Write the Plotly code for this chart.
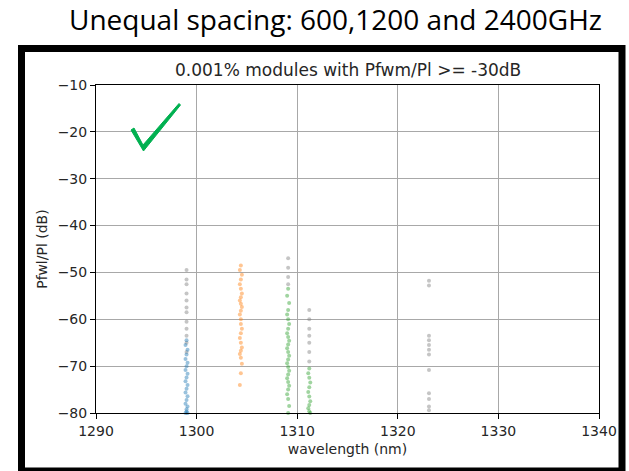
import plotly.graph_objects as go

# ---- data ----
blue_x = [1299.0, 1298.9, 1299.1, 1299.0, 1298.9, 1299.1, 1299.0, 1298.9, 1299.1, 1299.0, 1298.9, 1299.1,
          1299.0, 1298.9, 1299.1, 1299.0, 1298.9, 1299.1, 1299.0, 1299.0, 1299.1, 1298.9]
blue_y = [-64.5, -65.5, -66.5, -67.5, -68.5, -69.3, -70.0, -70.8, -71.6, -72.4, -73.2, -74.0,
          -74.8, -75.6, -76.4, -77.2, -78.0, -78.6, -79.2, -79.7, -80.0, -80.0]

orange_x = [1304.4, 1304.3, 1304.5, 1304.4, 1304.3, 1304.4, 1304.5, 1304.4, 1304.3, 1304.4, 1304.5, 1304.4,
            1304.3, 1304.4, 1304.4, 1304.5, 1304.4, 1304.3, 1304.4, 1304.5, 1304.4, 1304.3, 1304.4, 1304.5,
            1304.4, 1304.3]
orange_y = [-48.5, -49.5, -50.5, -51.5, -52.5, -53.5, -54.5, -55.3, -56.0, -56.7, -57.4, -58.2,
            -59.0, -60.0, -61.0, -62.0, -63.0, -64.0, -65.0, -66.0, -66.7, -67.4, -68.2, -69.5,
            -71.5, -74.0]

green_x = [1309.1, 1309.0, 1309.2, 1309.1, 1309.0, 1309.1, 1309.2, 1309.1, 1309.0, 1309.1, 1309.2, 1309.1,
           1309.0, 1309.1, 1309.2, 1309.1, 1309.0, 1309.1, 1309.2, 1309.1, 1309.0, 1309.1, 1309.2, 1309.1,
           1309.0, 1309.1, 1309.2, 1309.1,
           1311.2, 1311.1, 1311.2, 1311.3, 1311.2, 1311.1, 1311.2, 1311.3, 1311.2, 1311.1, 1311.2, 1311.3]
green_y = [-53.5, -55.0, -56.5, -58.0, -59.0, -60.0, -61.0, -62.0, -63.0, -63.8, -64.6, -65.4,
           -66.2, -67.0, -67.8, -68.6, -69.4, -70.2, -71.0, -71.8, -72.6, -73.4, -74.2, -75.0,
           -76.0, -77.0, -78.5, -80.0,
           -70.5, -71.5, -72.5, -73.5, -74.5, -75.5, -76.5, -77.5, -78.3, -79.0, -79.6, -80.0]

grey_x = [1299.0, 1299.0, 1299.0, 1299.0, 1299.0, 1299.0, 1299.0, 1299.0, 1299.0, 1299.0, 1299.0, 1299.0,
          1309.1, 1309.1, 1309.1, 1309.1,
          1311.2, 1311.2, 1311.2, 1311.2, 1311.2, 1311.2, 1311.2,
          1323.1, 1323.1, 1323.1, 1323.1, 1323.1, 1323.1, 1323.1, 1323.1, 1323.1, 1323.1, 1323.1, 1323.1]
grey_y = [-49.5, -51.5, -52.5, -54.5, -56.0, -57.5, -58.5, -60.5, -62.0, -63.5, -65.0, -67.0,
          -47.0, -49.0, -51.0, -52.5,
          -58.0, -60.0, -62.0, -63.5, -65.0, -67.0, -69.0,
          -51.8, -52.8, -63.5, -64.5, -65.5, -66.5, -67.5, -70.8, -75.8, -77.0, -78.6, -79.4]

x_ticks = [1290, 1300, 1310, 1320, 1330, 1340]
y_ticks = [-80, -70, -60, -50, -40, -30, -20, -10]

heading = "Unequal spacing: 600,1200 and 2400GHz"
subtitle = "0.001% modules with Pfwm/Pl >= -30dB"

# ---- layout geometry (pixels) ----
W, H = 629, 471
L, R, T, B = 96, 30, 85, 58
PW, PH = W - L - R, H - T - B


def px(x):
    return (x - L) / PW


def py(y):
    return (H - B - y) / PH


fig = go.Figure()
series = [
    (grey_x, grey_y, "#7f7f7f"),
    (blue_x, blue_y, "#1f77b4"),
    (orange_x, orange_y, "#ff7f0e"),
    (green_x, green_y, "#2ca02c"),
]
for xs, ys, c in series:
    fig.add_trace(go.Scatter(x=xs, y=ys, mode="markers",
                             marker=dict(size=4, color=c, opacity=0.45, line=dict(width=0)),
                             showlegend=False, cliponaxis=False))

tick_font = dict(family="DejaVu Sans", size=14, color="#262626")
axis_common = dict(showline=True, linecolor="black", linewidth=1, mirror=True,
                   ticks="outside", ticklen=5, tickcolor="black",
                   showgrid=True, gridcolor="#a8a8a8", gridwidth=1, zeroline=False,
                   tickfont=tick_font)

fig.update_xaxes(range=[1290, 1340], tickvals=x_ticks,
                 title=dict(text="wavelength (nm)", font=tick_font, standoff=6),
                 **axis_common)
fig.update_yaxes(range=[-80, -10], tickvals=y_ticks,
                 title=dict(text="Pfwl/Pl (dB)", font=tick_font, standoff=6),
                 **axis_common)

# heading and axes title
fig.add_annotation(text=heading, xref="paper", yref="paper", x=px(335), y=py(19),
                   xanchor="center", yanchor="middle", showarrow=False,
                   font=dict(family="Open Sans", size=28, color="black"))
fig.add_annotation(text=subtitle, xref="paper", yref="paper", x=0.5, y=py(70),
                   xanchor="center", yanchor="middle", showarrow=False,
                   font=dict(family="DejaVu Sans", size=17, color="#262626"))

# black picture frame
fig.add_shape(type="rect", xref="paper", yref="paper",
              x0=px(21.5), x1=px(622), y0=py(48.5), y1=py(471),
              line=dict(color="black", width=7), fillcolor="rgba(0,0,0,0)", layer="above")

# green check mark
pts = [(131, 130), (134, 128), (143, 145), (179, 103.5), (180.5, 105), (143.5, 151)]
path = "M " + " L ".join(f"{px(a):.5f},{py(b):.5f}" for a, b in pts) + " Z"
fig.add_shape(type="path", xref="paper", yref="paper", path=path,
              fillcolor="#00b050", line=dict(color="#00b050", width=1), layer="above")

fig.update_layout(width=W, height=H, margin=dict(l=L, r=R, t=T, b=B, autoexpand=False),
                  paper_bgcolor="white", plot_bgcolor="white")

fig.write_html("out.html")
